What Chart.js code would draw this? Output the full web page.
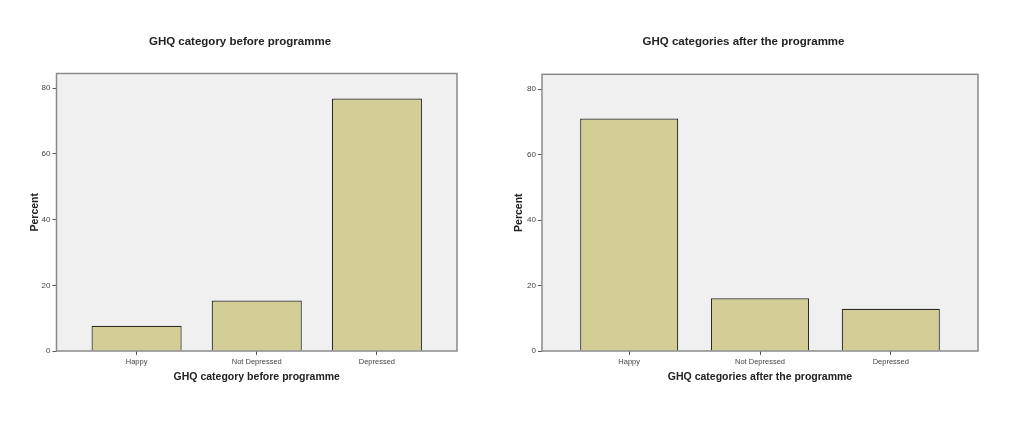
<!DOCTYPE html>
<html>
<head>
  <title>GHQ categories</title>
  <script src="https://cdn.jsdelivr.net/npm/chart.js"></script>
  <style>
    body { margin: 0; background: #fff; width: 1024px; height: 430px; overflow: hidden; position: relative; }
    canvas { position: absolute; top: 0; }
    #before { left: 13px; }
    #after { left: 499px; }
  </style>
</head>
<body>
  <canvas id="before" width="454" height="430"></canvas>
  <canvas id="after" width="489" height="430"></canvas>
  <script>
    const categories = ['Happy', 'Not Depressed', 'Depressed'];
    const percentBefore = [7.7, 15.4, 76.9];
    const percentAfter = [71.0, 16.1, 12.9];
    const yTicks = [0, 20, 40, 60, 80];
    const yMax = 84.5;

    const BAR_FILL = '#d3cd96';
    const FONT = "'Liberation Sans', Arial, sans-serif";

    // grey plot background and frame, like the SPSS output
    const framePlugin = {
      id: 'frame',
      beforeDraw(chart) {
        const a = chart.chartArea, ctx = chart.ctx;
        ctx.save();
        ctx.fillStyle = '#f0f0f0';
        ctx.fillRect(a.left, a.top, a.right - a.left, a.bottom - a.top);
        ctx.restore();
      },
      afterDraw(chart) {
        const a = chart.chartArea, ctx = chart.ctx;
        ctx.save();
        ctx.strokeStyle = '#8a8a8a';
        ctx.lineWidth = 1.5;
        ctx.strokeRect(a.left, a.top, a.right - a.left, a.bottom - a.top);
        ctx.restore();
      }
    };

    function makeChart(id, title, values, yAxisWidth, yTitlePad, titleBottomPad) {
      return new Chart(document.getElementById(id), {
        type: 'bar',
        data: {
          datasets: [{
            data: values.map((v, i) => ({ x: i + 1, y: v })),
            backgroundColor: BAR_FILL,
            borderColor: '#2a2a2a',
            borderWidth: 1.2,
            barPercentage: 0.75,
            categoryPercentage: 1
          }]
        },
        options: {
          responsive: false,
          animation: false,
          devicePixelRatio: 1,
          layout: { padding: { left: 10, right: 10, top: 0, bottom: 0 } },
          plugins: {
            legend: { display: false },
            tooltip: { enabled: false },
            title: {
              display: true,
              text: title,
              color: '#222',
              font: { family: FONT, size: 11.5, weight: 'bold' },
              padding: { top: 35.1, bottom: titleBottomPad }
            }
          },
          scales: {
            x: {
              type: 'linear',
              min: 1 / 3,
              max: 3 + 2 / 3,
              offset: false,
              afterBuildTicks: s => { s.ticks = categories.map((c, i) => ({ value: i + 1 })); },
              afterFit: s => { s.height = 79; },
              ticks: {
                autoSkip: false,
                maxRotation: 0,
                padding: 2,
                color: '#444',
                font: { family: FONT, size: 7.5 },
                callback: (v, i) => categories[i]
              },
              grid: { offset: false, drawOnChartArea: false, drawTicks: true, tickLength: 4, color: '#555' },
              border: { display: false },
              title: {
                display: true,
                text: title,
                color: '#222',
                font: { family: FONT, size: 10.5, weight: 'bold' },
                padding: { top: 0, bottom: 46.7 }
              }
            },
            y: {
              min: 0,
              max: yMax,
              afterBuildTicks: s => { s.ticks = yTicks.map(v => ({ value: v })); },
              afterFit: s => { s.width = yAxisWidth; },
              ticks: { padding: 2, color: '#444', font: { family: FONT, size: 8 } },
              grid: { drawOnChartArea: false, drawTicks: true, tickLength: 4, color: '#555' },
              border: { display: false },
              title: {
                display: true,
                text: 'Percent',
                color: '#222',
                font: { family: FONT, size: 10.5, weight: 'bold' },
                padding: { top: yTitlePad + 0.6, bottom: 0 }
              }
            }
          }
        },
        plugins: [framePlugin]
      });
    }

    makeChart('before', 'GHQ category before programme', percentBefore, 33.5, 5.4, 24.6);
    makeChart('after', 'GHQ categories after the programme', percentAfter, 33, 3, 25.4);
  </script>
</body>
</html>
